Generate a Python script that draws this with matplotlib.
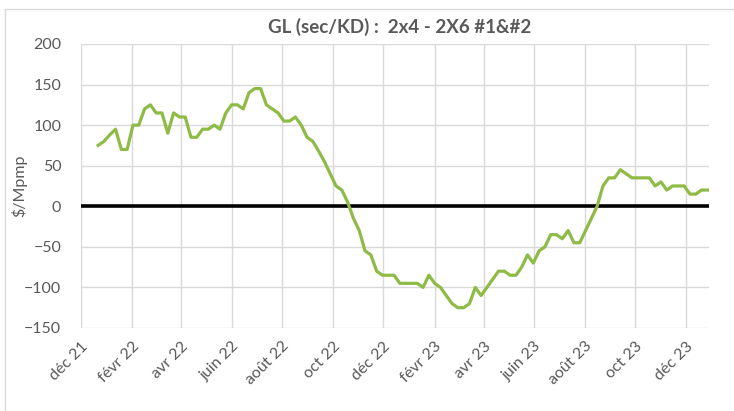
import numpy as np
import pandas as pd
import matplotlib
matplotlib.use("Agg")
import matplotlib.pyplot as plt
import matplotlib.dates as mdates
from matplotlib.patches import Rectangle

plt.rcParams['font.family'] = ['Lato', 'DejaVu Sans']

# Données hebdomadaires ($/Mpmp)
start_date = "2021-12-22"
values = [75, 80, 88, 95, 70, 70, 100, 100, 120, 125,
          115, 115, 90, 115, 110, 110, 85, 85, 95, 95,
          100, 95, 115, 125, 125, 120, 140, 145, 145, 125,
          120, 115, 105, 105, 110, 100, 85, 80, 68, 55,
          40, 25, 20, 5, -15, -30, -55, -60, -80, -85,
          -85, -85, -95, -95, -95, -95, -100, -85, -95, -100,
          -110, -120, -125, -125, -120, -100, -110, -100, -90, -80,
          -80, -85, -85, -75, -60, -70, -55, -50, -35, -35,
          -40, -30, -45, -45, -30, -15, 0, 25, 35, 35,
          45, 40, 35, 35, 35, 35, 25, 30, 20, 25,
          25, 25, 15, 15, 20, 20]
dates = pd.date_range(start_date, periods=len(values), freq="7D")

tick_dates = pd.date_range("2021-12-01", "2023-12-01", freq="2MS")
tick_labels = ["déc 21", "févr 22", "avr 22", "juin 22", "août 22", "oct 22",
               "déc 22", "févr 23", "avr 23", "juin 23", "août 23", "oct 23", "déc 23"]
y_ticks = [200, 150, 100, 50, 0, -50, -100, -150]

gray = "#595959"
grid_c = "#D9D9D9"

fig = plt.figure(figsize=(7.34, 4.11), dpi=100)
ax = fig.add_axes([0.110, 0.202, 0.856, 0.691])

ax.plot(dates, values, color="#8DBB45", lw=2.3, solid_joinstyle="round", zorder=3)
ax.axhline(0, color="black", lw=2.6, zorder=2)

ax.set_xlim(pd.Timestamp("2021-12-01"), pd.Timestamp("2023-12-29"))
ax.set_ylim(-150, 200)
ax.set_yticks(y_ticks)
ax.set_xticks(tick_dates)
ax.set_xticklabels(tick_labels, rotation=45, ha="right", va="top",
                   rotation_mode="anchor")
ax.grid(True, color=grid_c, lw=1.0)
ax.set_axisbelow(True)
for s in ax.spines.values():
    s.set_visible(False)
ax.tick_params(length=0, colors=gray, labelsize=11.5)
ax.tick_params(axis="x", pad=8)
ax.tick_params(axis="y", pad=14)

ax.set_ylabel("$/Mpmp", color=gray, fontsize=11.5, labelpad=-2)
fig.text(0.545, 0.935, "GL (sec/KD) :  2x4 - 2X6 #1&#2", ha="center", va="center",
         fontsize=13.5, fontweight="bold", color=gray)

# cadre du graphique
fig.patches.append(Rectangle((5 / 734, -0.1), 1.2, 1.1 - 9 / 411 + 0.0,
                             transform=fig.transFigure, fill=False,
                             edgecolor=grid_c, lw=1.0))

fig.savefig("out.png", dpi=100)
